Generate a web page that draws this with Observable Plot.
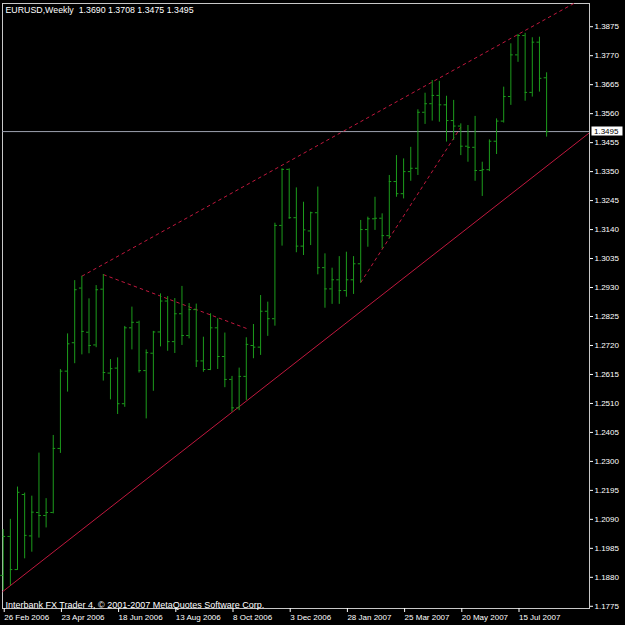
<!DOCTYPE html>
<html><head><meta charset="utf-8">
<script src="https://cdn.jsdelivr.net/npm/d3@7"></script>
<script src="https://cdn.jsdelivr.net/npm/@observablehq/plot@0.6"></script>
<style>
html,body{margin:0;padding:0;background:#000;}
#chart svg{display:block;}
</style></head><body>
<div id="chart"></div>
<script>
// Weekly EURUSD bars, first bar = week of 26 Feb 2006 (index 0)
const openP = [1.1887,1.2028,1.1908,1.2180,1.2030,1.2115,1.2104,1.2115,1.2347,1.2627,
1.2730,1.2928,1.2768,1.2722,1.2924,1.2620,1.2638,1.2509,1.2784,1.2804,
1.2629,1.2692,1.2769,1.2881,1.2734,1.2835,1.2756,1.2850,1.2664,1.2633,
1.2784,1.2680,1.2597,1.2494,1.2608,1.2720,1.2714,1.2844,1.2817,1.3155,
1.3358,1.3183,1.3080,1.3135,1.3201,1.3002,1.2925,1.2958,1.2919,1.2958,
1.3016,1.3140,1.3179,1.3181,1.3118,1.3314,1.3270,1.3350,1.3362,1.3565,
1.3596,1.3626,1.3592,1.3535,1.3515,1.3442,1.3438,1.3354,1.3357,1.3460,
1.3533,1.3622,1.3773,1.3843,1.3637,1.3819,1.3690];
const highP = [1.2053,1.2090,1.2207,1.2185,1.2174,1.2330,1.2165,1.2394,1.2633,1.2762,
1.2955,1.2971,1.2889,1.2937,1.2977,1.2669,1.2675,1.2789,1.2859,1.2808,
1.2704,1.2771,1.2907,1.2897,1.2890,1.2934,1.2872,1.2870,1.2750,1.2835,
1.2817,1.2765,1.2608,1.2638,1.2748,1.2796,1.2901,1.2877,1.3163,1.3360,
1.3360,1.3291,1.3239,1.3203,1.3294,1.3052,1.3000,1.3042,1.3058,1.3042,
1.3173,1.3185,1.3257,1.3197,1.3336,1.3408,1.3396,1.3438,1.3574,1.3634,
1.3680,1.3677,1.3623,1.3608,1.3523,1.3517,1.3550,1.3384,1.3465,1.3541,
1.3656,1.3813,1.3847,1.3851,1.3835,1.3837,1.3708];
const lowP = [1.1832,1.1850,1.1905,1.1947,1.1971,1.2022,1.2059,1.2110,1.2329,1.2551,
1.2654,1.2686,1.2690,1.2712,1.2591,1.2523,1.2470,1.2496,1.2704,1.2620,
1.2454,1.2554,1.2715,1.2699,1.2691,1.2720,1.2744,1.2640,1.2623,1.2629,
1.2633,1.2567,1.2478,1.2484,1.2521,1.2672,1.2684,1.2753,1.2790,1.3080,
1.3177,1.3056,1.3046,1.3082,1.2976,1.2855,1.2869,1.2869,1.2895,1.2905,
1.2946,1.3076,1.3137,1.3070,1.3107,1.3257,1.3251,1.3315,1.3336,1.3521,
1.3533,1.3529,1.3457,1.3463,1.3408,1.3384,1.3315,1.3260,1.3350,1.3412,
1.3526,1.3590,1.3746,1.3605,1.3620,1.3638,1.3475];
const closeP = [1.2028,1.1908,1.2188,1.2032,1.2116,1.2104,1.2115,1.2347,1.2627,1.2726,
1.2922,1.2771,1.2720,1.2922,1.2622,1.2636,1.2509,1.2784,1.2804,1.2629,
1.2694,1.2769,1.2881,1.2734,1.2835,1.2756,1.2850,1.2664,1.2633,1.2784,
1.2680,1.2597,1.2494,1.2608,1.2724,1.2714,1.2844,1.2817,1.3155,1.3358,
1.3183,1.3080,1.3139,1.3201,1.3002,1.2925,1.2958,1.2919,1.2958,1.3016,
1.3140,1.3179,1.3181,1.3118,1.3314,1.3270,1.3350,1.3362,1.3565,1.3596,
1.3626,1.3592,1.3535,1.3515,1.3442,1.3438,1.3354,1.3357,1.3460,1.3533,
1.3622,1.3773,1.3843,1.3637,1.3819,1.3688,1.3495];

const xTickIndex = [0, 8, 16, 24, 32, 40, 48, 56, 64, 72];
const xTickLabels = ["26 Feb 2006","23 Apr 2006","18 Jun 2006","13 Aug 2006","8 Oct 2006",
  "3 Dec 2006","28 Jan 2007","25 Mar 2007","20 May 2007","15 Jul 2007"];
const yTickLabels = ["1.1775","1.1880","1.1985","1.2090","1.2195","1.2300","1.2405",
  "1.2510","1.2615","1.2720","1.2825","1.2930","1.3035","1.3140","1.3245","1.3350",
  "1.3455","1.3560","1.3665","1.3770","1.3875"];

// trend lines: anchor points (bar index, price)
const trendStyle = ["solid", "dashed", "dashed", "dashed"];
const trendI1 = [1, 11, 14, 50];
const trendP1 = [1.1850, 1.2971, 1.2977, 1.2948];
const trendI2 = [32, 72, 34.4, 64];
const trendP2 = [1.2478, 1.3847, 1.2778, 1.3511];
const trendExtendLeft = [true, false, false, false];
const trendExtendRight = [true, true, false, false];

const symbolName = "EURUSD,Weekly";
const caption = "Interbank FX Trader 4, \u00a9 2001-2007 MetaQuotes Software Corp.";

const xDomain = [-0.1, 82];
const yDomain = [1.1767, 1.39591];

const bars = openP.map((o, i) => ({i, open: o, high: highP[i], low: lowP[i], close: closeP[i]}));
const last = bars[bars.length - 1];
const bid = last.close;
const f4 = v => v.toFixed(4);
const title = `${symbolName}\u00a0 ${f4(last.open)} ${f4(last.high)} ${f4(last.low)} ${f4(last.close)}`;

const trends = trendI1.map((i1, k) => {
  const slope = (trendP2[k] - trendP1[k]) / (trendI2[k] - i1);
  const xa = trendExtendLeft[k] ? xDomain[0] : i1;
  const xb = trendExtendRight[k] ? xDomain[1] : trendI2[k];
  return {style: trendStyle[k], x1: xa, y1: trendP1[k] + (xa - i1) * slope,
          x2: xb, y2: trendP1[k] + (xb - i1) * slope};
});

const green = "#1c9c1c";
const red = "#c0183e";
const tickW = 0.34;

// bid price label: white box with black text, placed with the y scale
function bidLabel(index, scales, values, dims) {
  const y = scales.y(bid);
  const x0 = dims.width - dims.marginRight + 2.5;
  const g = d3.create("svg:g");
  g.append("rect").attr("x", x0).attr("y", Math.round(y) - 4.5).attr("width", 31).attr("height", 9).attr("fill", "#fff");
  g.append("text").attr("x", x0 + 2.5).attr("y", y).attr("dy", "0.34em")
    .attr("text-anchor", "start").attr("fill", "#000").attr("font-size", 8).text(f4(bid));
  return g.node();
}

const chart = Plot.plot({
  width: 625, height: 625,
  marginLeft: 2, marginRight: 36, marginTop: 3, marginBottom: 17,
  style: {background: "#000", color: "#fff", fontFamily: "'Liberation Sans', Arial, sans-serif", fontSize: "8px"},
  x: {type: "linear", domain: xDomain},
  y: {type: "linear", domain: yDomain},
  marks: [
    Plot.frame({stroke: "#c8c8c8"}),
    Plot.ruleY([bid], {stroke: "#9ea2b0"}),
    Plot.link(trends.filter(d => d.style === "solid"), {x1: "x1", y1: "y1", x2: "x2", y2: "y2", stroke: red, clip: true}),
    Plot.link(trends.filter(d => d.style === "dashed"), {x1: "x1", y1: "y1", x2: "x2", y2: "y2", stroke: red, strokeDasharray: "3.5,3", clip: true}),
    Plot.ruleX(bars, {x: "i", y1: "low", y2: "high", stroke: green}),
    Plot.ruleY(bars, {y: "open", x1: d => d.i - tickW, x2: d => d.i, stroke: green}),
    Plot.ruleY(bars, {y: "close", x1: d => d.i, x2: d => d.i + tickW, stroke: green}),
    Plot.axisY(yTickLabels.map(Number), {anchor: "right", tickSize: 3, tickPadding: 2, tickFormat: f4}),
    Plot.axisX(xTickIndex, {anchor: "bottom", tickSize: 4, tickPadding: 2, textAnchor: "start", dx: 1,
      tickFormat: d => xTickLabels[xTickIndex.indexOf(d)]}),
    Plot.text([title], {frameAnchor: "top-left", dx: 3, dy: 3, lineAnchor: "top", fill: "#fff", fontSize: 8.8}),
    Plot.text([caption], {frameAnchor: "bottom-left", dx: 3, dy: -1, lineAnchor: "bottom", fill: "#fff", fontSize: 9}),
    bidLabel
  ]
});
document.getElementById("chart").append(chart);
</script>
</body></html>
